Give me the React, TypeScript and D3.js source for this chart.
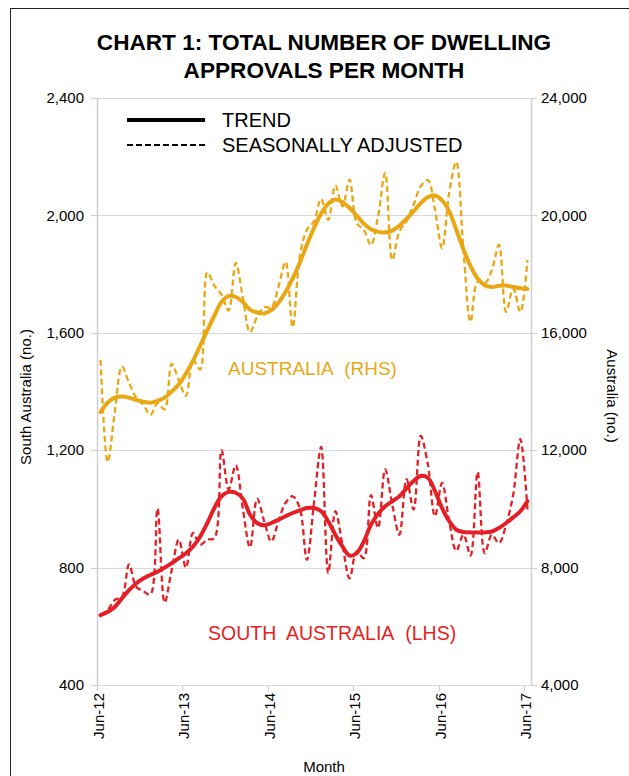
import React, { useEffect, useRef } from 'react';
import * as d3 from 'd3';

// monthly, Jun-12 .. Jun-17
const xTickLabels = ['Jun-12', 'Jun-13', 'Jun-14', 'Jun-15', 'Jun-16', 'Jun-17'];
const leftTicks = [400, 800, 1200, 1600, 2000, 2400];
const rightTicks = [4000, 8000, 12000, 16000, 20000, 24000];

// Australia (RHS)
const ausTrend = [
  13300, 13620, 13790, 13830, 13790, 13710, 13650, 13620, 13680, 13790,
  14000, 14250, 14610, 15050, 15560, 16080, 16590, 17050, 17250, 17220,
  17050, 16790, 16690, 16660, 16770, 17020, 17390, 17850, 18390, 19000,
  19570, 20060, 20400, 20540, 20450, 20250, 19990, 19720, 19530, 19440,
  19420, 19480, 19650, 19880, 20140, 20420, 20620, 20680, 20510, 20140,
  19510, 18850, 18270, 17850, 17620, 17560, 17600, 17610, 17560, 17520,
  17490,
];
const ausSA = [
  15075, 11600, 13300, 14850, 14300, 13790, 13550, 13200, 13600, 13390,
  14940, 14380, 13850, 15080, 14750, 18060, 17600, 17300, 16760, 18380,
  17200, 16020, 16540, 16880, 16860, 17560, 18420, 16190, 18600, 19510,
  19800, 20560, 19850, 21020, 20310, 21220, 19740, 19510, 18990, 19970,
  21450, 18480, 19450, 19800, 20370, 20990, 21200, 20200, 18880, 20770,
  21820, 18820, 16370, 17740, 17680, 18140, 19000, 16710, 17510, 16710,
  18480,
];

// South Australia (LHS)
const saTrend = [
  638, 649, 666, 695, 723, 746, 763, 775, 786, 800,
  815, 832, 849, 872, 906, 952, 1003, 1043, 1058, 1055,
  1035, 981, 952, 944, 952, 963, 975, 986, 995, 1003,
  1003, 992, 958, 912, 872, 841, 849, 889, 946, 983,
  1009, 1026, 1043, 1070, 1095, 1112, 1106, 1061, 1003, 958,
  929, 921, 920, 920, 920, 923, 935, 952, 971, 992,
  1026,
];
const saSA = [
  640, 655, 690, 700, 811, 735, 720, 708, 1001, 681,
  792, 895, 800, 918, 878, 895, 900, 1200, 1066, 1149,
  1000, 869, 1035, 958, 889, 958, 1021, 1043, 1003, 826,
  1021, 1211, 781, 992, 878, 763, 855, 832, 1047, 935,
  1135, 1015, 912, 1101, 998, 1249, 1152, 975, 1089, 958,
  857, 912, 841, 1126, 849, 912, 883, 946, 1049, 1238,
  998,
];

const GOLD = '#E9A713';
const RED = '#E41F26';
const FONT = '"Liberation Sans", Arial, sans-serif';

const Chart = () => {
  const svgRef = useRef(null);

  useEffect(() => {
    const svg = d3.select(svgRef.current);
    svg.selectAll('*').remove();

    const left = 97;
    const right = 531;
    const top = 98;
    const bottom = 685;

    const x = d3.scaleBand().domain(d3.range(ausTrend.length)).range([left, right]).padding(0);
    const yL = d3.scaleLinear().domain([400, 2400]).range([bottom, top]);
    const yR = d3.scaleLinear().domain([4000, 24000]).range([bottom, top]);
    const cx = i => x(i) + x.bandwidth() / 2;

    // frame
    svg.append('rect')
      .attr('x', 10.5).attr('y', 8.5)
      .attr('width', 700).attr('height', 800)
      .attr('fill', 'none').attr('stroke', '#222').attr('stroke-width', 1);

    // title
    const title = svg.append('text')
      .attr('text-anchor', 'middle')
      .attr('font-family', FONT)
      .attr('font-weight', 'bold')
      .attr('font-size', 22.6)
      .attr('fill', '#000');
    title.append('tspan').attr('x', 324).attr('y', 50).text('CHART 1: TOTAL NUMBER OF DWELLING');
    title.append('tspan').attr('x', 324).attr('y', 78).text('APPROVALS PER MONTH');

    // gridlines
    svg.append('g').selectAll('line')
      .data(leftTicks)
      .enter()
      .append('line')
      .attr('x1', left).attr('x2', right)
      .attr('y1', d => Math.round(yL(d)) + 0.5).attr('y2', d => Math.round(yL(d)) + 0.5)
      .attr('stroke', '#D9D9D9').attr('stroke-width', 1.2);

    // axis lines
    svg.append('line')
      .attr('x1', left + 0.5).attr('x2', left + 0.5).attr('y1', top).attr('y2', bottom)
      .attr('stroke', '#D0D0D0').attr('stroke-width', 1.5);
    svg.append('line')
      .attr('x1', right + 0.5).attr('x2', right + 0.5).attr('y1', top).attr('y2', bottom)
      .attr('stroke', '#D0D0D0').attr('stroke-width', 1.5);

    // left ticks + labels
    const gl = svg.append('g');
    gl.selectAll('line')
      .data(leftTicks)
      .enter()
      .append('line')
      .attr('x1', left - 6).attr('x2', left)
      .attr('y1', d => Math.round(yL(d)) + 0.5).attr('y2', d => Math.round(yL(d)) + 0.5)
      .attr('stroke', '#D0D0D0').attr('stroke-width', 1.2);
    gl.selectAll('text')
      .data(leftTicks)
      .enter()
      .append('text')
      .attr('x', 84)
      .attr('y', d => yL(d))
      .attr('dy', '0.35em')
      .attr('text-anchor', 'end')
      .attr('font-family', FONT)
      .attr('font-size', 15)
      .attr('fill', '#000')
      .text(d => d3.format(',')(d));

    // right ticks + labels
    const gr = svg.append('g');
    gr.selectAll('line')
      .data(rightTicks)
      .enter()
      .append('line')
      .attr('x1', right).attr('x2', right + 6)
      .attr('y1', d => Math.round(yR(d)) + 0.5).attr('y2', d => Math.round(yR(d)) + 0.5)
      .attr('stroke', '#D0D0D0').attr('stroke-width', 1.2);
    gr.selectAll('text')
      .data(rightTicks)
      .enter()
      .append('text')
      .attr('x', 541)
      .attr('y', d => yR(d))
      .attr('dy', '0.35em')
      .attr('text-anchor', 'start')
      .attr('font-family', FONT)
      .attr('font-size', 15)
      .attr('fill', '#000')
      .text(d => d3.format(',')(d));

    // x ticks + labels
    const xTicks = xTickLabels.map((label, k) => ({ label, i: k * 12 }));
    const gx = svg.append('g');
    gx.selectAll('line')
      .data(xTicks)
      .enter()
      .append('line')
      .attr('x1', d => Math.round(x(d.i)) + 0.5).attr('x2', d => Math.round(x(d.i)) + 0.5)
      .attr('y1', bottom).attr('y2', bottom + 6)
      .attr('stroke', '#D0D0D0').attr('stroke-width', 1.2);
    gx.selectAll('text')
      .data(xTicks)
      .enter()
      .append('text')
      .attr('transform', d => `translate(${x(d.i) + 7},693) rotate(-90)`)
      .attr('text-anchor', 'end')
      .attr('font-family', FONT)
      .attr('font-size', 15)
      .attr('fill', '#000')
      .text(d => d.label);

    // axis titles
    svg.append('text')
      .attr('transform', 'translate(31,397) rotate(-90)')
      .attr('text-anchor', 'middle')
      .attr('font-family', FONT)
      .attr('font-size', 15)
      .attr('fill', '#000')
      .text('South Australia (no.)');
    svg.append('text')
      .attr('transform', 'translate(607,396) rotate(90)')
      .attr('text-anchor', 'middle')
      .attr('font-family', FONT)
      .attr('font-size', 15)
      .attr('fill', '#000')
      .text('Australia (no.)');
    svg.append('text')
      .attr('x', 324).attr('y', 772)
      .attr('text-anchor', 'middle')
      .attr('font-family', FONT)
      .attr('font-size', 15)
      .attr('fill', '#000')
      .text('Month');

    // series
    const lineR = d3.line().x((d, i) => cx(i)).y(d => yR(d)).curve(d3.curveCatmullRom.alpha(0.5));
    const lineL = d3.line().x((d, i) => cx(i)).y(d => yL(d)).curve(d3.curveCatmullRom.alpha(0.5));

    svg.append('path').datum(ausSA)
      .attr('fill', 'none').attr('stroke', GOLD).attr('stroke-width', 2.3)
      .attr('stroke-dasharray', '6,3.5').attr('d', lineR);
    svg.append('path').datum(ausTrend)
      .attr('fill', 'none').attr('stroke', GOLD).attr('stroke-width', 4)
      .attr('stroke-linejoin', 'round').attr('stroke-linecap', 'round').attr('d', lineR);
    svg.append('path').datum(saSA)
      .attr('fill', 'none').attr('stroke', RED).attr('stroke-width', 2.3)
      .attr('stroke-dasharray', '6,3.5').attr('d', lineL);
    svg.append('path').datum(saTrend)
      .attr('fill', 'none').attr('stroke', RED).attr('stroke-width', 4)
      .attr('stroke-linejoin', 'round').attr('stroke-linecap', 'round').attr('d', lineL);

    // legend
    const legend = svg.append('g');
    legend.append('line')
      .attr('x1', 127).attr('x2', 205).attr('y1', 120).attr('y2', 120)
      .attr('stroke', '#000').attr('stroke-width', 4);
    legend.append('line')
      .attr('x1', 127).attr('x2', 205).attr('y1', 145).attr('y2', 145)
      .attr('stroke', '#000').attr('stroke-width', 2).attr('stroke-dasharray', '6,3');
    legend.append('text')
      .attr('x', 222).attr('y', 127)
      .attr('font-family', FONT).attr('font-size', 20).attr('fill', '#000')
      .text('TREND');
    legend.append('text')
      .attr('x', 222).attr('y', 152)
      .attr('font-family', FONT).attr('font-size', 20).attr('fill', '#000')
      .text('SEASONALLY ADJUSTED');

    // series labels
    svg.append('text')
      .attr('x', 228).attr('y', 375)
      .attr('font-family', FONT).attr('font-size', 19).attr('fill', GOLD)
      .text('AUSTRALIA\u00A0 (RHS)');
    svg.append('text')
      .attr('x', 208).attr('y', 640)
      .attr('font-family', FONT).attr('font-size', 19.5).attr('fill', RED)
      .text('SOUTH\u00A0 AUSTRALIA\u00A0 (LHS)');
  }, []);

  return (
    <svg
      ref={svgRef}
      width={629}
      height={776}
      style={{ position: 'absolute', left: 0, top: 0, background: '#fff' }}
    />
  );
};

export default function App() {
  return <Chart />;
}
